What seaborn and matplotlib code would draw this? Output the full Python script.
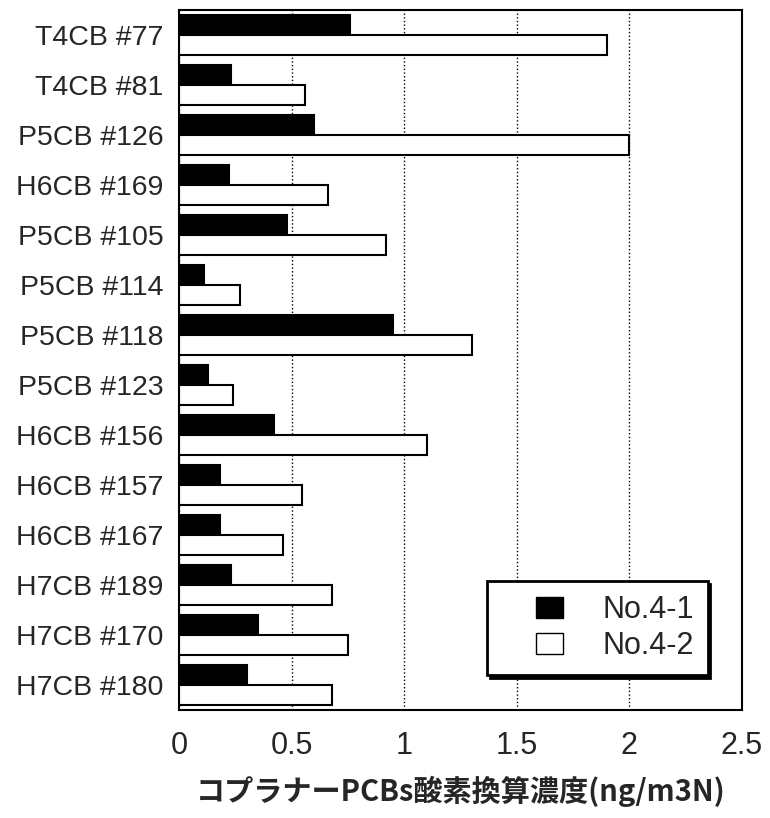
import pandas as pd
import seaborn as sns
import matplotlib.pyplot as plt
from matplotlib.patches import Patch
from matplotlib.legend_handler import HandlerPatch

# values (ng/m3N)
congeners = ['T4CB #77', 'T4CB #81', 'P5CB #126', 'H6CB #169', 'P5CB #105',
             'P5CB #114', 'P5CB #118', 'P5CB #123', 'H6CB #156', 'H6CB #157',
             'H6CB #167', 'H7CB #189', 'H7CB #170', 'H7CB #180']
no4_1 = [0.76, 0.23, 0.60, 0.22, 0.48, 0.11, 0.95, 0.13, 0.42, 0.18, 0.18, 0.23, 0.35, 0.30]
no4_2 = [1.90, 0.56, 2.00, 0.66, 0.92, 0.27, 1.30, 0.24, 1.10, 0.545, 0.46, 0.68, 0.75, 0.68]
samples = ['No.4-1', 'No.4-2']
colors = ['black', 'white']
xticks = [0, 0.5, 1, 1.5, 2, 2.5]
xticklabels = ['0', '0.5', '1', '1.5', '2', '2.5']

df = pd.DataFrame({
    'congener': congeners * 2,
    'sample': [samples[0]] * len(congeners) + [samples[1]] * len(congeners),
    'value': no4_1 + no4_2,
})

sns.set_style('white')
plt.rcParams['font.family'] = ['Liberation Sans', 'DejaVu Sans']

fig, ax = plt.subplots(figsize=(7.7, 8.18))
fig.subplots_adjust(left=0.2325, right=0.9636, top=0.9878, bottom=0.132)

sns.barplot(data=df, x='value', y='congener', hue='sample', hue_order=samples,
            palette=dict(zip(samples, colors)), edgecolor='black', linewidth=1.5,
            saturation=1, orient='h', legend=False, ax=ax)

ax.set_xlim(0, 2.5)
ax.set_xticks(xticks)
ax.set_xticklabels(xticklabels)
ax.xaxis.grid(True, linestyle=':', color='black', linewidth=1)
ax.set_axisbelow(True)
for s in ax.spines.values():
    s.set_color('black')
    s.set_linewidth(1.5)

ax.tick_params(axis='x', direction='in', length=8, width=1.5, pad=15, labelsize=22)
ax.tick_params(axis='y', length=0, pad=11, labelsize=20.5)
ax.set_ylabel('')
ax.set_xlabel('コプラナーPCBs酸素換算濃度(ng/m3N)', fontfamily=['Noto Sans CJK JP', 'DejaVu Sans'],
              fontweight='bold', fontsize=21, labelpad=11)

# legend with black drop shadow
handles = [Patch(facecolor=c, edgecolor='black', label=s) for s, c in zip(samples, colors)]
leg = ax.legend(handles=handles, loc='lower left', bbox_to_anchor=(0.547, 0.05),
                borderaxespad=0, fontsize=22, handlelength=2.03, handleheight=0.72,
                handletextpad=1.3, borderpad=0.45, labelspacing=0.2,
                fancybox=False, edgecolor='black', framealpha=1,
                shadow={'color': 'black', 'alpha': 1},
                handler_map={Patch: HandlerPatch(xpad=1.14)})
leg.get_frame().set_linewidth(2)

fig.savefig('out.png', dpi=100)
